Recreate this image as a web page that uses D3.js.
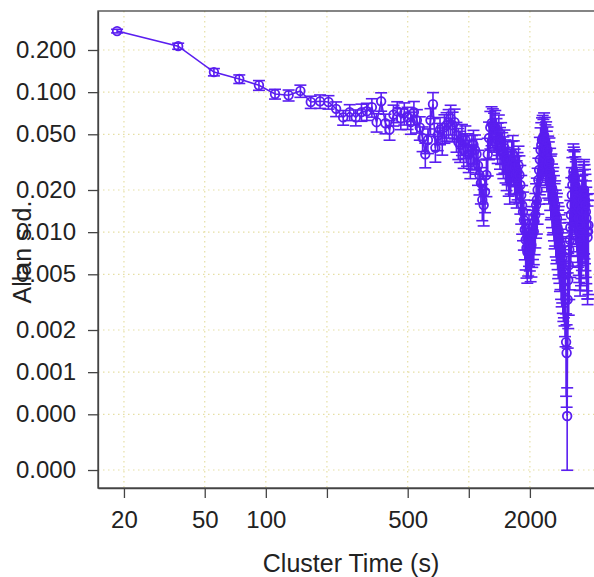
<!DOCTYPE html>
<html><head><meta charset="utf-8">
<script src="https://cdn.jsdelivr.net/npm/d3@7"></script>
<style>body{margin:0;background:#fff} svg{display:block} text{font-family:"Liberation Sans",Arial,sans-serif}</style>
</head><body><svg id="c" width="594" height="577"></svg>
<script>
const clusterTime=[18.5,37,55.5,74,92.5,111,129.5,148,166.5,185,203.5,222,240.5,259,277.5,296,314.5,333,351.5,370,
388.5,407,425.5,444,462.5,481,499.5,518,536.5,555,573.5,592,610.5,629,647.5,666,684.5,703,721.5,740,
758.5,777,795.5,814,832.5,851,869.5,888,906.5,925,943.5,962,980.5,999,1017.5,1036,1054.5,1073,1091.5,1110,
1128.5,1147,1165.5,1184,1202.5,1221,1239.5,1258,1276.5,1295,1313.5,1332,1350.5,1369,1387.5,1406,1424.5,1443,1461.5,1480,
1498.5,1517,1535.5,1554,1572.5,1591,1609.5,1628,1646.5,1665,1683.5,1702,1720.5,1739,1757.5,1776,1794.5,1813,1831.5,1850,
1868.5,1887,1905.5,1924,1942.5,1961,1979.5,1998,2016.5,2035,2053.5,2072,2090.5,2109,2127.5,2146,2164.5,2183,2201.5,2220,
2238.5,2257,2275.5,2294,2312.5,2331,2349.5,2368,2386.5,2405,2423.5,2442,2460.5,2479,2497.5,2516,2534.5,2553,2571.5,2590,
2608.5,2627,2645.5,2664,2682.5,2701,2719.5,2738,2756.5,2775,2793.5,2812,2830.5,2849,2867.5,2886,2904.5,2923,2941.5,2960,
2978.5,2997,3015.5,3034,3052.5,3071,3089.5,3108,3126.5,3145,3163.5,3182,3200.5,3219,3237.5,3256,3274.5,3293,3311.5,3330,
3348.5,3367,3385.5,3404,3422.5,3441,3459.5,3478,3496.5,3515,3533.5,3552,3570.5,3589,3607.5,3626,3644.5,3663,3681.5,3700,
3718.5,3737,3755.5,3774,3792.5,3811,3829.5,3848,3866.5,3885];
const allanSd=[0.273,0.213,0.139,0.124,0.112,0.097,0.095,0.102,0.085,0.086,
0.085,0.076,0.066,0.072,0.066,0.072,0.073,0.078,0.061,0.086,
0.060,0.054,0.069,0.073,0.065,0.071,0.066,0.061,0.072,0.063,
0.056,0.047,0.036,0.0455,0.063,0.082,0.040,0.049,0.054,0.0455,
0.056,0.058,0.061,0.065,0.058,0.061,0.049,0.044,0.042,0.047,
0.0386,0.0455,0.040,0.036,0.033,0.0386,0.042,0.0386,0.036,0.030,
0.0256,0.0224,0.0170,0.0156,0.0194,0.0256,0.036,0.047,0.056,0.060,
0.058,0.054,0.056,0.049,0.0455,0.052,0.042,0.0455,0.0386,0.036,
0.040,0.034,0.030,0.033,0.0278,0.0244,0.0288,0.033,0.036,0.033,
0.0288,0.0256,0.0236,0.027,0.030,0.0256,0.0217,0.0184,0.0156,0.0140,
0.0122,0.0104,0.0088,0.0077,0.0072,0.0081,0.0095,0.0088,0.0075,0.0081,
0.0095,0.0108,0.0101,0.0119,0.0133,0.0156,0.0170,0.0200,0.0236,0.0278,
0.033,0.0386,0.042,0.0455,0.047,0.044,0.049,0.0455,0.040,0.042,
0.036,0.0386,0.033,0.030,0.032,0.027,0.0236,0.0244,0.0207,0.0184,
0.0194,0.0170,0.0149,0.0156,0.0133,0.0119,0.0126,0.0108,0.0095,0.0101,
0.0088,0.0077,0.0081,0.0069,0.0061,0.0065,0.0056,0.0049,0.0052,0.00455,
0.0039,0.0033,0.00164,0.00137,0.000486,0.0033,0.00455,0.0058,0.0075,0.0088,
0.0108,0.0133,0.0156,0.0184,0.0217,0.0244,0.027,0.0256,0.0236,0.0244,
0.0217,0.0200,0.0207,0.0181,0.0170,0.0156,0.0144,0.0126,0.0112,0.0101,
0.0092,0.0101,0.0112,0.0126,0.0144,0.0156,0.0170,0.0184,0.0194,0.0200,
0.0184,0.0170,0.0156,0.0140,0.0126,0.0112,0.0101,0.0092,0.0101,0.0112];
const relErr=[0.03,0.05,0.06,0.07,0.08,0.08,0.09,0.10,0.10,0.11,
0.11,0.12,0.12,0.13,0.13,0.14,0.14,0.15,0.15,0.15,
0.16,0.16,0.17,0.17,0.17,0.18,0.18,0.18,0.19,0.19,
0.19,0.20,0.20,0.20,0.21,0.21,0.21,0.22,0.22,0.22,
0.23,0.23,0.23,0.24,0.24,0.24,0.24,0.25,0.25,0.25,
0.26,0.26,0.26,0.26,0.27,0.27,0.27,0.28,0.28,0.28,
0.28,0.29,0.29,0.29,0.29,0.30,0.30,0.30,0.30,0.31,
0.31,0.31,0.32,0.32,0.32,0.32,0.33,0.33,0.33,0.33,
0.34,0.34,0.34,0.34,0.35,0.35,0.35,0.35,0.36,0.36,
0.36,0.36,0.37,0.37,0.37,0.37,0.38,0.38,0.38,0.38,
0.39,0.39,0.39,0.39,0.40,0.40,0.40,0.40,0.41,0.41,
0.41,0.41,0.42,0.42,0.42,0.42,0.43,0.43,0.43,0.43,
0.44,0.44,0.44,0.44,0.45,0.45,0.45,0.45,0.46,0.46,
0.46,0.46,0.47,0.47,0.47,0.47,0.48,0.48,0.48,0.48,
0.49,0.49,0.49,0.49,0.50,0.50,0.50,0.50,0.51,0.51,
0.51,0.51,0.52,0.52,0.52,0.52,0.53,0.53,0.53,0.53,
0.54,0.54,0.59,0.59,0.59,0.55,0.55,0.56,0.56,0.56,
0.56,0.57,0.57,0.57,0.57,0.58,0.58,0.58,0.59,0.59,
0.59,0.59,0.60,0.60,0.60,0.61,0.61,0.61,0.61,0.62,
0.62,0.62,0.63,0.63,0.63,0.63,0.64,0.64,0.64,0.65,
0.65,0.65,0.66,0.66,0.66,0.66,0.67,0.67,0.67,0.68];
const yTickValues=[0.2,0.1,0.05,0.02,0.01,0.005,0.002,0.001,0.0005,0.0002];
const yTickLabels=["0.200","0.100","0.050","0.020","0.010","0.005","0.002","0.001","0.000","0.000"];
const xTickValues=[20,50,100,200,500,1000,2000];
const xTickLabels=["20","50","100","","500","","2000"];
const xTitle="Cluster Time (s)";
const yTitle="Allan s.d.";

const color="#5a1ef0";
const svg=d3.select("#c");
const L=98,R=600,T=11,B=488;
const x=d3.scaleLog().domain([14.9,4430]).range([L,R]);
const y=d3.scaleLog().domain([0.3798,0.0001488]).range([T,B]);

const data=clusterTime.map((t,i)=>({t,v:allanSd[i],e:relErr[i]}));

// grid
const grid=svg.append("g").attr("stroke","#e6dfa4").attr("stroke-width",1.2).attr("stroke-dasharray","1.5,3.5");
grid.selectAll("line.gx").data(xTickValues).join("line").attr("x1",d=>x(d)).attr("x2",d=>x(d)).attr("y1",T).attr("y2",B);
grid.selectAll("line.gy").data(yTickValues).join("line").attr("y1",d=>y(d)).attr("y2",d=>y(d)).attr("x1",L).attr("x2",R);

// box
svg.append("rect").attr("x",L).attr("y",T).attr("width",R-L).attr("height",B-T).attr("fill","none").attr("stroke","#444").attr("stroke-width",1.3);

// axes
const ya=svg.append("g").attr("transform",`translate(${L},0)`)
  .call(d3.axisLeft(y).tickValues(yTickValues).tickFormat((d,i)=>yTickLabels[i]).tickSize(10).tickSizeOuter(0).tickPadding(12));
const xa=svg.append("g").attr("transform",`translate(0,${B})`)
  .call(d3.axisBottom(x).tickValues(xTickValues).tickFormat((d,i)=>xTickLabels[i]).tickSize(10).tickSizeOuter(0).tickPadding(13));
[ya,xa].forEach(a=>{
  a.select(".domain").attr("stroke","#444").attr("stroke-width",1.3);
  a.selectAll(".tick line").attr("stroke","#444").attr("stroke-width",1.3);
  a.selectAll(".tick text").attr("font-size",24).attr("fill","#222").attr("font-family","'Liberation Sans',Arial,sans-serif");
});

// titles
svg.append("text").attr("x",351).attr("y",572).attr("text-anchor","middle").attr("font-size",25).attr("fill","#222").text(xTitle);
svg.append("text").attr("transform","translate(31,252) rotate(-90)").attr("text-anchor","middle").attr("font-size",25).attr("fill","#222").text(yTitle);

// series
const g=svg.append("g");
g.append("path").datum(data).attr("fill","none").attr("stroke",color).attr("stroke-width",1.6)
 .attr("d",d3.line().x(d=>x(d.t)).y(d=>y(d.v)));
const eb=g.append("g").attr("stroke",color).attr("stroke-width",1.6);
eb.selectAll("line.v").data(data).join("line").attr("x1",d=>x(d.t)).attr("x2",d=>x(d.t))
  .attr("y1",d=>y(d.v*(1+d.e))).attr("y2",d=>y(d.v*(1-d.e)));
eb.selectAll("line.top").data(data).join("line").attr("x1",d=>x(d.t)-6).attr("x2",d=>x(d.t)+6)
  .attr("y1",d=>y(d.v*(1+d.e))).attr("y2",d=>y(d.v*(1+d.e)));
eb.selectAll("line.bot").data(data).join("line").attr("x1",d=>x(d.t)-6).attr("x2",d=>x(d.t)+6)
  .attr("y1",d=>y(d.v*(1-d.e))).attr("y2",d=>y(d.v*(1-d.e)));
g.selectAll("circle").data(data).join("circle").attr("cx",d=>x(d.t)).attr("cy",d=>y(d.v)).attr("r",4.3)
  .attr("fill","none").attr("stroke",color).attr("stroke-width",1.8);
</script></body></html>
